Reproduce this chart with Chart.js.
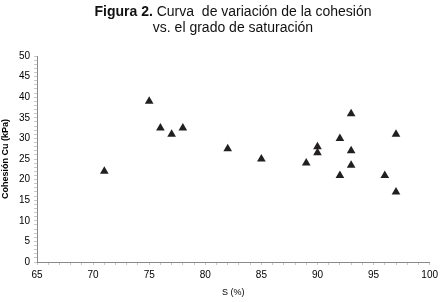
<!DOCTYPE html>
<html>
<head>
  <meta charset="utf-8" />
  <script src="https://cdn.jsdelivr.net/npm/chart.js@4.4.0/dist/chart.umd.min.js"></script>
  <style>
    body { margin:0; background:#fff; width:442px; height:302px; overflow:hidden; position:relative; }
    #title { position:absolute; top:3px; left:0; width:466px; text-align:center;
             font-family:'Liberation Sans', Arial, sans-serif; font-size:14px; line-height:16px; color:#111; }
    #holder { position:absolute; left:0; top:0; width:442px; height:302px; }
  </style>
</head>
<body>
<div id="holder"><canvas id="chart" width="442" height="302"></canvas></div>
<div id="title"><b>Figura 2.</b> Curva&nbsp; de variación de la cohesión<br>vs. el grado de saturación</div>

<script>
// grado de saturación S (%) and cohesión Cu (kPa)
const saturation = [71, 75, 76, 77, 78, 82, 85, 89, 90, 90, 92, 92, 93, 93, 93, 96, 97, 97];
const cohesion   = [22, 39, 32.5, 31, 32.5, 27.5, 25, 24, 28, 26.5, 21, 30, 36, 27, 23.5, 21, 31, 17];

const xMin = 65, xMax = 100, yMin = 0, yMax = 50;
const AXIS = '#8a8a8a';
const FONT = "'Liberation Sans', Arial, sans-serif";

const points = saturation.map((s, i) => ({ x: s, y: cohesion[i] }));

new Chart(document.getElementById('chart'), {
  type: 'scatter',
  data: {
    datasets: [{
      data: points,
      pointStyle: 'triangle',
      pointRadius: 5,
      pointHoverRadius: 5,
      backgroundColor: '#231f20',
      borderColor: '#231f20',
      borderWidth: 0
    }]
  },
  options: {
    responsive: false,
    animation: false,
    layout: { padding: { left: 0, right: 12, top: 56, bottom: 0 } },
    plugins: { legend: { display: false }, tooltip: { enabled: false } },
    scales: {
      x: {
        type: 'linear', min: xMin, max: xMax,
        border: { color: AXIS, width: 1 },
        grid: { drawOnChartArea: false, color: '#c8c8c8', tickLength: 3 },
        ticks: {
          stepSize: 1, autoSkip: false, maxRotation: 0, padding: 4,
          color: '#000', font: { family: FONT, size: 10 },
          callback: v => (v % 5 === 0 ? v : '')
        },
        title: { display: true, text: 'S (%)', color: '#000', font: { family: FONT, size: 9 }, padding: { top: 4 } },
        afterFit: s => { s.height = 40; }
      },
      y: {
        type: 'linear', min: yMin, max: yMax,
        border: { color: AXIS, width: 1 },
        grid: { drawOnChartArea: false, color: '#c8c8c8', tickLength: 3 },
        ticks: {
          stepSize: 1, autoSkip: false, padding: 4,
          color: '#000', font: { family: FONT, size: 10 },
          callback: v => (v % 5 === 0 ? v : '')
        },
        title: { display: true, text: 'Cohesión Cu (kPa)', color: '#000', font: { family: FONT, size: 9, weight: 'bold' }, padding: 0 },
        afterFit: s => { s.width = 37; }
      }
    }
  }
});
</script>
</body>
</html>
